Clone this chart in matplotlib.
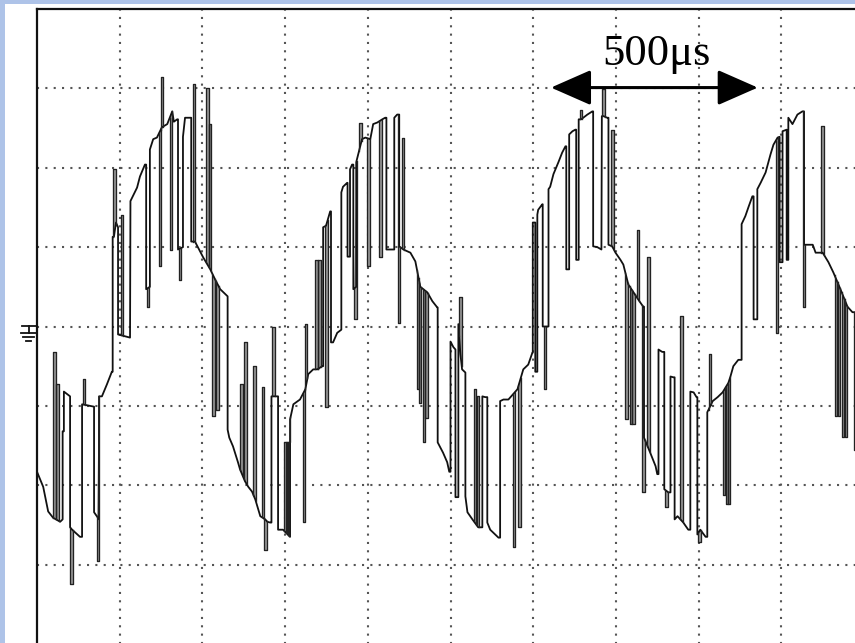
import numpy as np
import matplotlib.pyplot as plt
from matplotlib.patches import Rectangle
from matplotlib.lines import Line2D

# scope settings: 200 us/div horizontal, 100 V/div vertical
T_DIV = 200
V_DIV = 100

# inverter output trace, (time us, volts) per half cycle
trough_1 = [(0, -183), (15, -202), (27, -233), (39, -241), (56, -246), (62, -243), (62, -132),
            (65, -132), (65, -82), (80, -88), (80, -253), (85, -256), (104, -265), (109, -265),
            (109, -98), (138, -101), (138, -234), (150, -243), (150, -88), (157, -88), (169, -73),
            (181, -57)]
crest_1 = [(183, -57), (183, 113), (186, 113), (191, 131), (196, 125), (196, -10), (225, -14),
           (226, 158), (242, 175), (249, 189), (261, 204), (264, 204), (264, 47), (273, 50),
           (273, 223), (281, 236), (290, 238), (302, 251), (315, 255), (327, 271), (331, 258),
           (339, 261), (341, 261), (341, 97), (353, 100), (353, 239), (358, 263), (370, 263),
           (373, 263), (373, 107), (382, 107), (402, 87), (419, 72), (431, 59), (443, 47),
           (461, 38)]
trough_2 = [(461, -130), (465, -140), (474, -151), (486, -171), (491, -180), (503, -195),
            (511, -202), (520, -208), (528, -218), (540, -239), (552, -243), (557, -246),
            (564, -247), (567, -247), (567, -88), (583, -88), (583, -256), (595, -256),
            (612, -265), (612, -117), (620, -98), (636, -92), (649, -79), (656, -60), (668, -54),
            (678, -54), (690, -50)]
crest_2 = [(692, -50), (692, 125), (699, 127), (709, 145), (711, 145), (711, -20), (716, -20),
           (726, -8), (736, -4), (736, 169), (740, 176), (750, 181), (751, 181), (751, 88),
           (757, 88), (757, 198), (762, 204), (765, 204), (765, 47), (772, 50), (772, 207),
           (786, 236), (794, 238), (806, 236), (813, 255), (823, 257), (835, 261), (842, 263),
           (845, 263), (845, 97), (861, 97), (864, 97), (864, 263), (871, 267), (876, 267),
           (876, 101), (886, 97), (903, 93), (915, 82), (927, 50), (944, 43), (956, 32),
           (968, 24), (969, 24)]
trough_3 = [(969, -146), (982, -159), (992, -171), (997, -183), (1000, -183), (1000, -19),
            (1007, -26), (1012, -29), (1012, -215), (1019, -215), (1019, 3), (1024, -35),
            (1028, -54), (1036, -58), (1036, -214), (1041, -234), (1053, -243), (1067, -253),
            (1077, -253), (1077, -88), (1084, -89), (1089, -89), (1089, -247), (1096, -256),
            (1116, -266), (1120, -266), (1120, -94), (1128, -92), (1140, -92), (1150, -86),
            (1162, -79), (1176, -54), (1188, -48), (1198, -33)]
crest_3 = [(1199, -33), (1199, 131), (1205, 131), (1205, -57), (1210, -57), (1210, 141),
           (1212, 147), (1222, 154), (1223, 154), (1223, 0), (1237, 0), (1237, 173), (1241, 176),
           (1249, 192), (1261, 207), (1270, 219), (1278, 227), (1280, 227), (1280, 72),
           (1287, 72), (1287, 242), (1295, 246), (1302, 248), (1304, 248), (1304, 84),
           (1310, 84), (1310, 261), (1316, 261), (1331, 267), (1343, 271), (1345, 271),
           (1345, 101), (1355, 100), (1365, 97), (1366, 265), (1370, 265), (1379, 263),
           (1382, 263), (1382, 103), (1391, 101), (1399, 93), (1411, 84), (1418, 78),
           (1430, 53), (1454, 34), (1466, 25), (1468, 25)]
trough_4 = [(1468, -140), (1483, -159), (1496, -176), (1500, -186), (1503, -186), (1503, -29),
            (1512, -32), (1517, -32), (1517, -205), (1527, -209), (1532, -209), (1532, -63),
            (1539, -64), (1542, -64), (1542, -243), (1549, -239), (1563, -247), (1575, -256),
            (1580, -256), (1580, -82), (1588, -83), (1595, -89), (1597, -89), (1597, -262),
            (1604, -256), (1617, -265), (1621, -265), (1621, -108), (1634, -94), (1646, -89),
            (1658, -83), (1672, -71), (1677, -63), (1684, -50), (1696, -42), (1704, -42)]
crest_4 = [(1704, 129), (1713, 139), (1721, 151), (1730, 164), (1733, 164), (1733, 9),
           (1742, 9), (1742, 173), (1750, 181), (1762, 194), (1774, 217), (1781, 229),
           (1791, 238), (1796, 239), (1796, 81), (1803, 81), (1803, 246), (1813, 248),
           (1813, 84), (1817, 84), (1817, 263), (1827, 255), (1839, 267), (1851, 271),
           (1855, 271), (1855, 103), (1863, 103), (1876, 103), (1883, 93), (1900, 93),
           (1914, 81), (1926, 68), (1943, 47), (1960, 25), (1972, 18), (1982, 18)]

# narrow switching pulses: (start time us, level reached V)
pulses = [(39, -32), (46, -73), (81, -325), (111, -66), (145, -296), (184, 198), (203, 141),
          (265, 25), (295, 76), (299, 314), (321, 97), (343, 59), (377, 305), (409, 301),
          (415, 255), (424, -113), (433, -105), (492, -73), (501, -20), (523, -50), (544, -76),
          (550, -281), (569, 0), (598, -146), (603, -146), (607, -146), (643, -246), (648, 3),
          (673, 84), (680, 84), (697, -102), (767, 9), (779, 257), (799, 76), (828, 88),
          (873, 5), (882, 238), (919, -79), (923, -96), (933, -146), (939, -115), (1021, 37),
          (1056, -79), (1063, -88), (1151, -278), (1164, -253), (1226, -79), (1312, 273),
          (1367, 299), (1389, 248), (1423, -117), (1433, -123), (1440, -123), (1450, 122),
          (1464, -208), (1476, 88), (1519, -228), (1556, 13), (1599, -271), (1624, -35),
          (1659, -212), (1666, -224), (1671, -224), (1786, -8), (1852, 24), (1897, 252),
          (1929, -113), (1936, -113), (1946, -139), (1953, -139), (1975, -155)]
PULSE_W = 6  # us

period_us = 500

W, H = 855, 643
fig = plt.figure(figsize=(W / 100, H / 100), dpi=100)
fig.patch.set_facecolor('white')

# light blue window border
border = '#aec3e8'
fig.add_artist(Rectangle((0, 0), 5 / W, 1, transform=fig.transFigure, color=border, lw=0))
fig.add_artist(Rectangle((0, 1 - 4 / H), 1, 4 / H, transform=fig.transFigure, color=border, lw=0))

ax = fig.add_axes([37 / W, -1 / H, 827 / W, 635 / H])
ax.set_xlim(0, 10 * T_DIV)
ax.set_ylim(-4 * V_DIV, 4 * V_DIV)
ax.set_xticks(np.arange(T_DIV, 10 * T_DIV, T_DIV))
ax.set_yticks(np.arange(-3 * V_DIV, 4 * V_DIV, V_DIV))
ax.tick_params(length=0, labelbottom=False, labelleft=False)
ax.grid(True, color='#555555', lw=1.5, linestyle=(0, (1, 3)))
ax.set_axisbelow(True)
for s in ['right', 'bottom']:
    ax.spines[s].set_visible(False)
for s in ['left', 'top']:
    ax.spines[s].set_linewidth(1.6)
    ax.spines[s].set_color('#111111')

# base trace
pts = np.array(trough_1 + crest_1 + trough_2 + crest_2 + trough_3 + crest_3 + trough_4 + crest_4,
               dtype=float)
env_t, env_v = pts[:, 0], pts[:, 1]
ax.plot(env_t, env_v, color='#111111', lw=1.3)

# pulses hang off the base trace
pt = np.array([p[0] for p in pulses], dtype=float)
pv = np.array([p[1] for p in pulses], dtype=float)
b0 = np.interp(pt, env_t, env_v)
b1 = np.interp(pt + PULSE_W, env_t, env_v)
xs, ys = [], []
for t, v, a, b in zip(pt, pv, b0, b1):
    ax.fill([t, t, t + PULSE_W, t + PULSE_W], [a, v, v, b], color='#9a9a9a', lw=0)
    xs += [t, t, t + PULSE_W, t + PULSE_W, np.nan]
    ys += [a, v, v, b, np.nan]
ax.plot(xs, ys, color='#222222', lw=0.95)

# period marker
mid = 1493
ax.annotate('', xy=(mid - period_us / 2, 301), xytext=(mid + period_us / 2, 301),
            arrowprops=dict(arrowstyle='<|-|>,head_length=1.25,head_width=0.55',
                            lw=2.2, color='black', shrinkA=0, shrinkB=0, mutation_scale=20))
ax.text(mid + 4, 329, f'{period_us}μs', ha='center', va='baseline', fontsize=32,
        family='Liberation Serif', color='black')

# ground reference marker on the left edge
def fig_line(x0, y0, x1, y1, lw=1.3):
    fig.add_artist(Line2D([x0 / W, x1 / W], [1 - y0 / H, 1 - y1 / H],
                          transform=fig.transFigure, color='#111111', lw=lw))

fig_line(22, 326, 37, 326)
fig_line(29, 326, 29, 333)
fig_line(21, 333, 37, 333)
fig_line(23, 337, 34, 337)
fig_line(26, 341, 31, 341)

fig.savefig('out.png', dpi=100)
